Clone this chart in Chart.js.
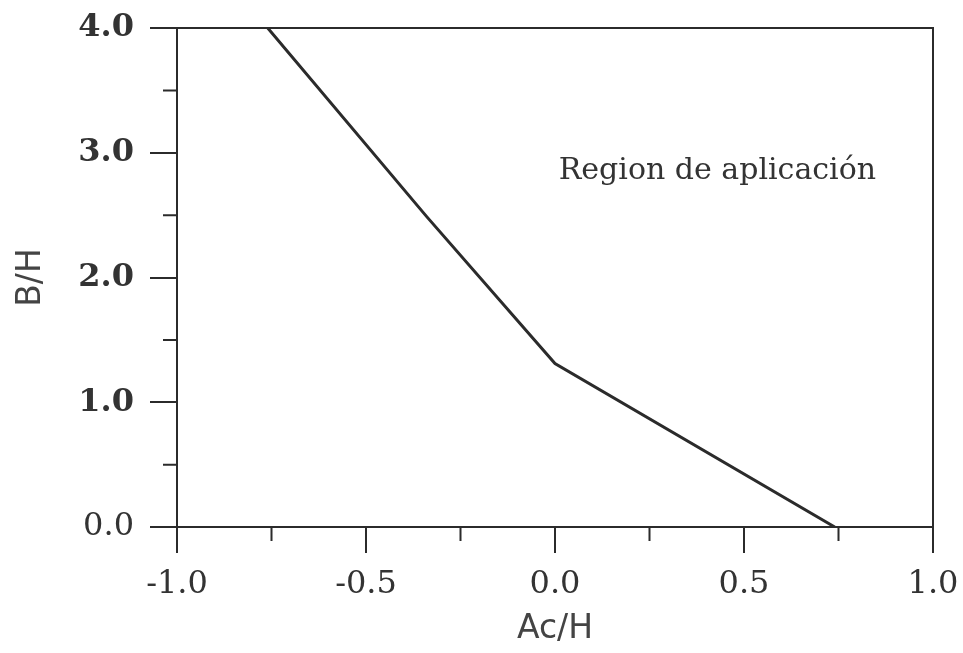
<!DOCTYPE html>
<html>
<head>
<meta charset="utf-8">
<script src="https://cdn.jsdelivr.net/npm/chart.js@4.4.1/dist/chart.umd.min.js"></script>
<style>
  body { margin: 0; background: #fff; }
  canvas { display: block; }
</style>
</head>
<body>
<canvas id="regionChart" width="963" height="653"></canvas>
<script>
// curve: B/H against Ac/H
const acH = [-0.76, -0.34, 0.0, 0.74];
const bH = [4.0, 2.49, 1.31, 0.0];
const xTicks = [-1.0, -0.5, 0.0, 0.5, 1.0];
const yTicks = [0.0, 1.0, 2.0, 3.0, 4.0];
const regionLabel = 'Region de aplicación';
const regionAt = [0.01, 2.85]; // Ac/H, B/H where the label starts

const ink = '#2b2b2b';

// box round the plot area and the short in-between ticks
const framePlugin = {
  id: 'frame',
  afterDraw(chart) {
    const ctx = chart.ctx, a = chart.chartArea;
    const xs = chart.scales.x, ys = chart.scales.y;
    ctx.save();
    ctx.strokeStyle = ink;
    ctx.lineWidth = 2;
    ctx.strokeRect(a.left, a.top, a.right - a.left, a.bottom - a.top);
    ctx.beginPath();
    for (let i = 0; i < xs.ticks.length - 1; i++) {
      const px = xs.getPixelForValue((xs.ticks[i].value + xs.ticks[i + 1].value) / 2);
      ctx.moveTo(px, a.bottom);
      ctx.lineTo(px, a.bottom + 14);
    }
    for (let i = 0; i < ys.ticks.length - 1; i++) {
      const py = ys.getPixelForValue((ys.ticks[i].value + ys.ticks[i + 1].value) / 2);
      ctx.moveTo(a.left, py);
      ctx.lineTo(a.left - 14, py);
    }
    ctx.stroke();
    // region label
    ctx.fillStyle = '#333';
    ctx.font = '30px "DejaVu Serif"';
    ctx.textAlign = 'left';
    ctx.textBaseline = 'middle';
    ctx.fillText(regionLabel, xs.getPixelForValue(regionAt[0]), ys.getPixelForValue(regionAt[1]));
    ctx.restore();
  }
};

const data = {
  datasets: [{
    data: acH.map((v, i) => ({x: v, y: bH[i]})),
    borderColor: ink,
    borderWidth: 3,
    pointRadius: 0,
    fill: false,
    tension: 0
  }]
};

const config = {
  type: 'scatter',
  data: data,
  options: {
    responsive: false,
    animation: false,
    showLine: true,
    layout: {padding: {top: 28, right: 30, left: 0, bottom: 0}},
    plugins: {legend: {display: false}, tooltip: {enabled: false}},
    scales: {
      x: {
        type: 'linear',
        min: -1.0, max: 1.0,
        afterBuildTicks: s => { s.ticks = xTicks.map(v => ({value: v})); },
        afterFit: s => { s.height = 126; s.paddingLeft = 0; s.paddingRight = 0; },
        grid: {drawOnChartArea: false, tickLength: 26, color: ink, lineWidth: 2},
        border: {color: ink, width: 2},
        ticks: {
          color: '#333',
          padding: 12,
          maxRotation: 0,
          font: {family: 'DejaVu Serif', size: 32},
          callback: v => v.toFixed(1)
        },
        title: {
          display: true, text: 'Ac/H', color: '#444',
          font: {family: 'DejaVu Sans', size: 33},
          padding: {top: 0, bottom: 4}
        }
      },
      y: {
        type: 'linear',
        min: 0, max: 4.0,
        afterBuildTicks: s => { s.ticks = yTicks.map(v => ({value: v})); },
        afterFit: s => { s.width = 177; s.paddingTop = 0; s.paddingBottom = 0; },
        grid: {drawOnChartArea: false, tickLength: 27, color: ink, lineWidth: 2},
        border: {color: ink, width: 2},
        ticks: {
          color: '#333',
          padding: 16,
          font: c => ({family: 'DejaVu Serif', size: 32, weight: c.tick && c.tick.value > 0 ? 'bold' : 'normal'}),
          callback: v => v.toFixed(1)
        },
        title: {
          display: true, text: 'B/H', color: '#444',
          font: {family: 'DejaVu Sans', size: 33},
          padding: {top: 12, bottom: 0}
        }
      }
    }
  },
  plugins: [framePlugin]
};

const chartRegion = new Chart(document.getElementById('regionChart'), config);
</script>
</body>
</html>
